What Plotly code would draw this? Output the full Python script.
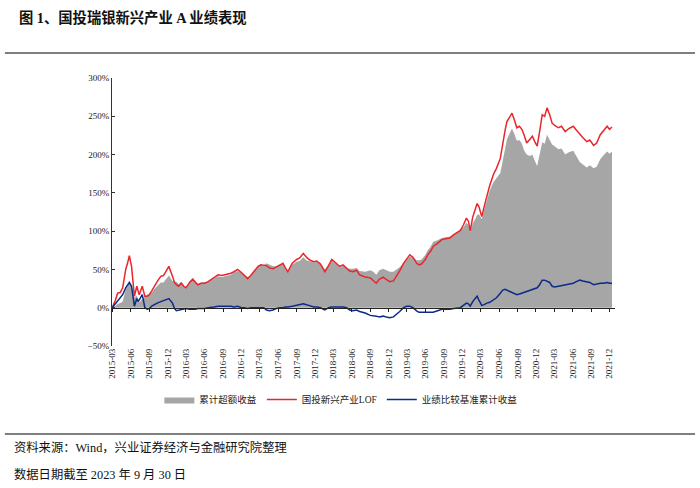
import plotly.graph_objects as go

# sampled roughly twice a month, values in %
dates = [
    "2015-03-01", "2015-03-16", "2015-03-28", "2015-04-10", "2015-04-22", "2015-05-07", "2015-05-16",
    "2015-05-25", "2015-06-05", "2015-06-13", "2015-06-19", "2015-07-01", "2015-07-07", "2015-07-13",
    "2015-07-28", "2015-08-04", "2015-08-10", "2015-08-22", "2015-09-01", "2015-09-13", "2015-09-25",
    "2015-10-10", "2015-10-28", "2015-11-10", "2015-11-22", "2015-12-07", "2015-12-25",
    "2016-01-04", "2016-01-13", "2016-01-25", "2016-02-07", "2016-02-19", "2016-03-01", "2016-03-19",
    "2016-04-04", "2016-04-16", "2016-04-28", "2016-05-16", "2016-06-01", "2016-06-19", "2016-07-04",
    "2016-07-19", "2016-08-07", "2016-08-25", "2016-09-10", "2016-09-25", "2016-10-10", "2016-10-25",
    "2016-11-12", "2016-12-01", "2016-12-16",
    "2017-01-01", "2017-01-16", "2017-02-01", "2017-02-22", "2017-03-07", "2017-03-22", "2017-04-04",
    "2017-04-19", "2017-05-07", "2017-05-22", "2017-06-10", "2017-06-25", "2017-07-07", "2017-07-19",
    "2017-08-10", "2017-09-01", "2017-09-16", "2017-10-04", "2017-10-19", "2017-11-07", "2017-11-25",
    "2017-12-10", "2017-12-28",
    "2018-01-19", "2018-02-06", "2018-02-22", "2018-03-04", "2018-03-16", "2018-04-01", "2018-04-19",
    "2018-05-07", "2018-05-22", "2018-06-07", "2018-06-25", "2018-07-10", "2018-08-07", "2018-09-01",
    "2018-09-16", "2018-10-01", "2018-10-16", "2018-11-04", "2018-11-19", "2018-12-07", "2018-12-25",
    "2019-01-10", "2019-01-25", "2019-02-13", "2019-03-01", "2019-03-16", "2019-04-01", "2019-04-19",
    "2019-05-01", "2019-05-13", "2019-06-01", "2019-06-13", "2019-06-28", "2019-07-10", "2019-08-01",
    "2019-08-22", "2019-09-10", "2019-10-01", "2019-10-19", "2019-11-07", "2019-11-22", "2019-12-07",
    "2019-12-22",
    "2020-01-01", "2020-01-10", "2020-01-22", "2020-02-04", "2020-02-13", "2020-02-22", "2020-03-07",
    "2020-03-19", "2020-04-01", "2020-04-16", "2020-05-04", "2020-05-19", "2020-06-07", "2020-06-19",
    "2020-07-01", "2020-07-10", "2020-07-22", "2020-08-04", "2020-08-16", "2020-08-28", "2020-09-10",
    "2020-09-22", "2020-10-04", "2020-10-16", "2020-11-01", "2020-11-13", "2020-11-25", "2020-12-07",
    "2020-12-19",
    "2021-01-01", "2021-01-13", "2021-01-25", "2021-02-07", "2021-02-19", "2021-03-04", "2021-03-22",
    "2021-04-07", "2021-04-25", "2021-05-13", "2021-06-04", "2021-06-19", "2021-07-07", "2021-07-22",
    "2021-08-10", "2021-08-25", "2021-09-13", "2021-09-28", "2021-10-16", "2021-11-01", "2021-11-19",
    "2021-12-01", "2021-12-13",
]

fund = [
    0, 9, 19, 20, 26, 50, 58, 68, 54, 30, 15, 28, 20, 17, 28, 22, 15, 15, 17, 22, 28, 34, 41, 42, 47, 54, 41,
    33, 30, 28, 32, 28, 26, 33, 37, 33, 30, 32, 32, 34, 37, 40, 43, 42, 43, 44, 45, 47, 50, 46, 42,
    38, 42, 47, 54, 56, 55, 55, 52, 51, 53, 56, 58, 52, 47, 58, 63, 65, 71, 66, 62, 60, 61, 57,
    47, 55, 63, 61, 58, 54, 56, 52, 48, 47, 49, 43, 40, 39, 36, 32, 37, 40, 37, 34, 35,
    41, 48, 58, 64, 69, 66, 58, 56, 57, 63, 69, 74, 80, 84, 89, 90, 91, 95, 98, 101, 108, 117,
    113, 100, 118, 128, 136, 132, 119, 132, 147, 160, 174, 182, 195, 215, 232, 243, 248, 254, 245, 235,
    237, 233, 225, 215, 220, 224, 217, 211, 230,
    252, 250, 261, 252, 241, 238, 235, 237, 230, 234, 237, 232, 226, 222, 217, 219, 212, 215, 226, 231,
    237, 233, 236,
]

bench = [
    0, 5, 10, 13, 17, 26, 30, 33, 28, 12, 2, 12, 8, 10, 17, 8, 0, -2, -1, 2, 4, 6, 8, 9, 10, 12, 6,
    -1, -4, -3, -2, -1, -1, -2, -2, -2, -1, -1, -1, 0, 1, 1, 2, 2, 2, 2, 2, 1, 2, 0, 0,
    -1, 0, 0, 0, 0, 0, -3, -4, -3, -1, 0, 0, 1, 1, 2, 3, 4, 5, 4, 2, 1, 1, 0,
    -3, 0, 1, 1, 1, 1, 1, 0, -3, -4, -3, -5, -7, -10, -11, -11, -12, -11, -12, -13, -12,
    -9, -5, 0, 2, 2, 0, -4, -6, -6, -6, -6, -6, -6, -4, -2, -2, -2, -1, 0, 0, 3, 6,
    5, 2, 8, 12, 15, 10, 3, 4, 6, 7, 10, 13, 19, 23, 24, 23, 21, 20, 18, 17, 18, 19, 20, 21, 22, 24,
    25, 26, 30,
    36, 36, 35, 33, 28, 27, 28, 29, 30, 31, 32, 34, 36, 35, 34, 33, 30, 31, 32, 32, 33, 32, 32,
]

excess = [
    0, 2, 5, 6, 8, 24, 28, 35, 26, 18, 13, 16, 12, 7, 11, 14, 15, 17, 18, 20, 24, 28, 33, 33, 37, 42, 35,
    34, 34, 31, 34, 29, 27, 35, 39, 35, 31, 33, 33, 34, 36, 39, 41, 40, 41, 42, 43, 46, 48, 46, 42,
    39, 42, 47, 54, 56, 55, 58, 56, 54, 54, 56, 58, 51, 46, 56, 60, 61, 66, 62, 60, 59, 60, 57,
    50, 55, 62, 60, 57, 53, 55, 52, 51, 51, 52, 48, 47, 49, 47, 43, 49, 51, 49, 47, 47,
    50, 53, 58, 62, 67, 66, 62, 62, 63, 69, 75, 80, 86, 88, 91, 92, 93, 96, 98, 101, 105, 111,
    108, 98, 110, 116, 121, 122, 116, 128, 141, 153, 164, 169, 176, 192, 208, 220, 227, 234, 227, 218,
    219, 214, 205, 200, 198, 200, 192, 185, 200,
    216, 214, 226, 219, 213, 211, 207, 208, 200, 203, 205, 198, 190, 187, 183, 186, 182, 184, 194, 199,
    204, 201, 204,
]

tick_dates = [f"{y}-{m:02d}-01" for y in range(2015, 2022) for m in (3, 6, 9, 12)]
tick_text = [d[:7] for d in tick_dates]

SERIF = "Liberation Serif, Noto Sans CJK SC"

fig = go.Figure()
fig.add_trace(go.Scatter(x=dates, y=excess, name="累计超额收益", mode="lines",
                         fill="tozeroy", fillcolor="#a6a6a6", line=dict(width=0, color="#a6a6a6")))
fig.add_trace(go.Scatter(x=dates, y=fund, name="国投新兴产业LOF", mode="lines",
                         line=dict(color="#e8262b", width=1.5)))
fig.add_trace(go.Scatter(x=dates, y=bench, name="业绩比较基准累计收益", mode="lines",
                         line=dict(color="#0b2a8a", width=1.5)))
# empty trace so the zero-line axis gets drawn
fig.add_trace(go.Scatter(x=[dates[0]], y=[0], xaxis="x2", mode="lines", showlegend=False,
                         hoverinfo="skip", line=dict(width=0)))

fig.update_layout(
    width=700, height=488,
    margin=dict(l=112, r=85, t=78, b=142),
    paper_bgcolor="white", plot_bgcolor="white",
    font=dict(family=SERIF, size=9, color="#222"),
    showlegend=True,
    legend=dict(orientation="h", x=0.455, y=-0.2, xanchor="center", yanchor="middle",
                font=dict(family=SERIF, size=9.5, color="#222"), itemwidth=30,
                tracegroupgap=0),
    xaxis=dict(type="date", range=["2015-02-28", "2021-12-28"], tickvals=tick_dates,
               ticktext=tick_text, tickangle=-90, showgrid=False, showline=False,
               zeroline=False, ticks="", tickfont=dict(family=SERIF, size=9)),
    xaxis2=dict(type="date", matches="x", overlaying="x", anchor="free", position=50 / 350,
                tickvals=tick_dates, showticklabels=False, ticks="outside", ticklen=3,
                tickcolor="#222", showline=True, linecolor="#222", linewidth=1.2,
                showgrid=False, zeroline=False),
    yaxis=dict(range=[-50, 300], dtick=50, ticksuffix="%", showgrid=False, zeroline=False,
               showline=True, linecolor="#333", linewidth=1, ticks="inside", ticklen=3,
               tickcolor="#333", tickfont=dict(family=SERIF, size=9)),
)

fig.add_shape(type="line", xref="paper", yref="paper", x0=-0.213, x1=1.159, y0=1.093, y1=1.093,
              line=dict(color="#555", width=1.5))
fig.add_shape(type="line", xref="paper", yref="paper", x0=-0.213, x1=1.159, y0=-0.328, y1=-0.328,
              line=dict(color="#555", width=1.5))

fig.add_annotation(text="<b>图 1、国投瑞银新兴产业 A 业绩表现</b>", xref="paper", yref="paper",
                   x=-0.189, y=1.224, xanchor="left", yanchor="middle", showarrow=False,
                   font=dict(family=SERIF, size=14.3, color="#111"))
fig.add_annotation(text="资料来源：Wind，兴业证券经济与金融研究院整理", xref="paper", yref="paper",
                   x=-0.199, y=-0.377, xanchor="left", yanchor="middle", showarrow=False,
                   font=dict(family=SERIF, size=12.3, color="#111"))
fig.add_annotation(text="数据日期截至 2023 年 9 月 30 日", xref="paper", yref="paper",
                   x=-0.199, y=-0.481, xanchor="left", yanchor="middle", showarrow=False,
                   font=dict(family=SERIF, size=12.3, color="#111"))

# drop the default page margin so the figure sits at the window's corner
fig.write_html("out.html", config={"displayModeBar": False},
               post_script="document.body.style.margin='0';")
